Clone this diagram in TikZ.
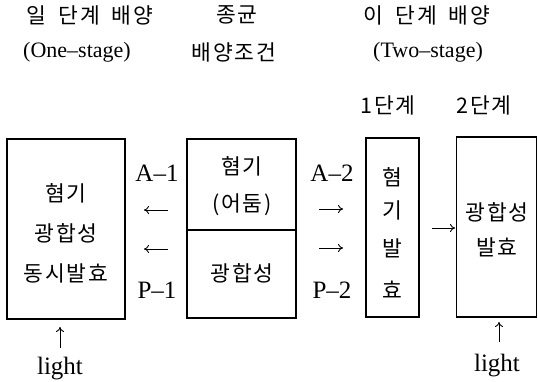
\documentclass[tikz,border=0pt]{standalone}
\usepackage{fontspec}
\setmainfont{Liberation Serif}
\newfontfamily\kr[LetterSpace=9]{Noto Sans CJK KR}
\usetikzlibrary{arrows.meta}
\begin{document}
\begin{tikzpicture}[x=1pt,y=-1pt,
  box/.style={draw, line width=1.1pt, inner sep=0pt},
  kt/.style={font=\kr\fontsize{21.5}{21.5}\selectfont, inner sep=0pt, anchor=center},
  ht/.style={font=\fontsize{22}{22}\selectfont, inner sep=0pt, anchor=center},
  lt/.style={font=\fontsize{25}{25}\selectfont, inner sep=0pt, anchor=center},
  arr/.style={-{To[length=5pt,width=8pt]}, line width=0.9pt}]
\useasboundingbox (0,0) rectangle (538,381);
% headers
\node[kt] (h1) at (90,15) {일\hspace{0.55em}단계\hspace{0.55em}배양};
\node[kt] (h2) at (237,15) {종균};
\node[kt] (h3) at (427,15) {이\hspace{0.55em}단계\hspace{0.55em}배양};
\node[ht] (h4) at (77,52) {(One–stage)};
\node[kt] (h5) at (234,52) {배양조건};
\node[ht] (h6) at (428,52) {(Two–stage)};
\node[kt] (s1) at (388,105) {1단계};
\node[kt] (s2) at (484,105) {2단계};
% boxes
\node[box, minimum width=118pt, minimum height=180pt] (b1) at (66,229) {};
\node[box, minimum width=109pt, minimum height=179pt] (b2) at (241.5,228.5) {};
\node[box, minimum width=53pt, minimum height=179pt] (b3) at (392.5,227.5) {};
\node[box, minimum width=80pt, minimum height=180pt] (b4) at (496.5,227) {};
\coordinate (d1) at (187,230);
\coordinate (d2) at (296,230);
\draw[line width=1.1pt] (d1) -- (d2);
% box texts
\node[kt] (t11) at (66,193) {혐기};
\node[kt] (t12) at (66,233) {광합성};
\node[kt] (t13) at (66,273) {동시발효};
\node[kt] (t21) at (242,166) {혐기};
\node[kt] (t22) at (242,205) {(어둠)};
\node[kt] (t23) at (242,273) {광합성};
\node[kt] (t31) at (392,177) {혐};
\node[kt] (t32) at (392,210) {기};
\node[kt] (t33) at (392,248) {발};
\node[kt] (t34) at (392,290) {효};
\node[kt] (t41) at (497,212) {광합성};
\node[kt] (t42) at (497,247) {발효};
% labels
\node[lt] (a1) at (157,173) {A–1};
\node[lt] (p1) at (157,290) {P–1};
\node[lt] (a2) at (332,173) {A–2};
\node[lt] (p2) at (332,290) {P–2};
% arrows
\coordinate (l1s) at (168,210); \coordinate (l1e) at (144,210);
\coordinate (l2s) at (168,249); \coordinate (l2e) at (144,249);
\coordinate (r1s) at (319,209); \coordinate (r1e) at (343,209);
\coordinate (r2s) at (319,248); \coordinate (r2e) at (343,248);
\draw[arr] (l1s) -- (l1e);
\draw[arr] (l2s) -- (l2e);
\draw[arr] (r1s) -- (r1e);
\draw[arr] (r2s) -- (r2e);
\coordinate (m1) at (432,228);
\coordinate (m2) at (455,228);
\draw[arr] (m1) -- (m2);
% light
\node[lt] (lg1) at (60,369) {light};
\node[lt] (lg2) at (497,366) {light};
\coordinate (u1) at (60,348); \coordinate (u1e) at (60,327);
\coordinate (u2) at (499,342); \coordinate (u2e) at (499,322);
\draw[arr] (u1) -- (u1e);
\draw[arr] (u2) -- (u2e);
\end{tikzpicture}
\end{document}
